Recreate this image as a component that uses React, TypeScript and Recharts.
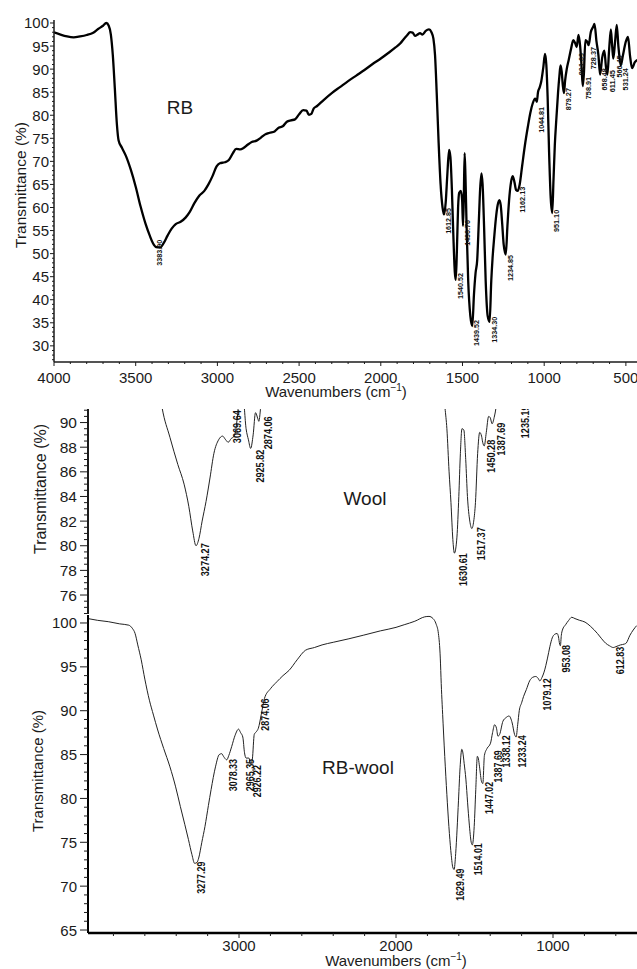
import React from 'react';
import { ComposedChart, Line, XAxis, YAxis } from 'recharts';

const FONT = "'Liberation Sans', Arial, Helvetica, sans-serif";
const NARROW = "'Liberation Sans Narrow', 'Liberation Sans', Arial, sans-serif";
const INK = '#1b1b1b';

// ---- RB spectrum (top panel) ----
const rbWavenumbers = [
  4000, 3960, 3920, 3880, 3840, 3800, 3760, 3730, 3700, 3680, 3665, 3652, 3640, 3628, 3615, 3605,
  3585, 3560, 3530, 3500, 3470, 3440, 3415, 3395, 3375, 3350, 3330, 3305, 3280, 3255, 3225, 3195,
  3170, 3140, 3110, 3080, 3055, 3030, 3005, 2985, 2955, 2930, 2905, 2885, 2860, 2840, 2815, 2790,
  2760, 2735, 2710, 2680, 2650, 2625, 2600, 2575, 2550, 2525, 2500, 2475, 2455, 2440, 2425, 2410,
  2390, 2350, 2300, 2250, 2200, 2150, 2100, 2050, 2000, 1950, 1910, 1880, 1860, 1840, 1820, 1805,
  1790, 1775, 1760, 1745, 1725, 1705, 1690, 1678, 1668, 1658, 1646, 1634, 1622, 1613, 1603, 1593,
  1582, 1574, 1565, 1556, 1547, 1541, 1534, 1527, 1520, 1510, 1502, 1497, 1492, 1487, 1482, 1475,
  1465, 1452, 1440, 1430, 1420, 1410, 1400, 1392, 1384, 1377, 1368, 1358, 1346, 1334, 1324, 1316,
  1306, 1296, 1285, 1274, 1266, 1258, 1248, 1235, 1225, 1215, 1203, 1193, 1182, 1172, 1162, 1150,
  1135, 1118, 1100, 1085, 1070, 1055, 1045, 1038, 1028, 1018, 1005, 995, 987, 979, 970, 960,
  951, 943, 935, 925, 915, 907, 900, 893, 886, 879, 872, 862, 850, 835, 822, 810,
  801, 790, 780, 772, 764, 757, 748, 738, 728, 715, 700, 692, 680, 668, 658, 645,
  632, 622, 613, 603, 592, 584, 577, 566, 556, 546, 538, 531, 518, 500, 487, 475,
  462, 445, 430,
];
const rbTransmittance = [
  98.0, 97.5, 97.1, 96.9, 97.1, 97.4, 97.9, 98.7, 99.4, 100.0, 99.4, 97.5, 93, 86, 78, 74.6,
  73, 71.2, 68.2, 64.5, 60.2, 56.5, 54, 52.3, 51.4, 51.3, 52.2, 53.9, 55.4, 56.4, 56.9, 57.8,
  59, 61, 62.6, 63.6, 65, 66.8, 68.9, 69.6, 69.8, 70.3, 71.8, 72.7, 72.6, 72.9, 73.6, 74.2,
  74.5, 75.1, 75.8, 76.2, 76.5, 77.3, 77.6, 78.6, 78.9, 79.1, 80.2, 81.1, 81.0, 80.1, 80.3, 81.5,
  82.0, 83.3, 84.8, 86.1, 87.4, 88.6, 89.8, 91.1, 92.3, 93.6, 94.7, 95.6, 96.5, 97.3, 98.0, 97.9,
  97.2, 97.5, 97.8, 97.5, 98.3, 98.6, 98.0, 96.6, 93, 85, 74, 65, 60, 58.5, 61, 67,
  72.5, 71, 64, 54, 46, 44.3, 51, 60, 63.2, 63.6, 61.5, 56, 62, 71.8, 67, 56,
  44, 36.5, 34.3, 41, 45.8, 48.6, 57, 64, 67.4, 65, 56, 44, 36.5, 35.2, 44, 49,
  53.5, 57.5, 60.5, 61.6, 60.5, 57, 52, 49.8, 56, 61.5, 65.5, 66.8, 65.5, 63.8, 63.6, 65,
  69, 73.5, 77.5, 80.5, 82.6, 83.6, 82.9, 85, 86, 87.3, 90.5, 93.3, 91, 84, 72, 62,
  58.8, 66, 73.5, 79.5, 85, 88.5, 90.8, 89.5, 86.5, 84.8, 87.5, 90, 92, 94.5, 96.3, 95.6,
  94.8, 97.4, 95, 91, 86.3, 89, 96.3, 96, 95.2, 98, 99.2, 99.8, 96, 93, 88.8, 92.5,
  94, 90.5, 88.8, 94, 98.6, 95, 92.3, 96, 99.6, 95, 92.3, 90.8, 93, 96, 97, 93,
  90.2, 91.5, 92,
];
const rbPeakLabels = [
  '3383.90', '1612.85', '1540.52', '1496.76', '1439.52', '1334.30', '1234.85', '1162.13', '1044.81',
  '951.10', '879.27', '801.69', '758.91', '728.37', '658.48', '611.45', '566.45', '531.24',
];
const rbPeakTransmittance = [53, 59.9, 45.8, 57.3, 35.6, 36.3, 49.7, 64.5, 81.8, 59.5, 85.9, 93.5, 88.3, 94.8, 90.2, 89.8, 93, 90.2];

// ---- Wool spectrum (middle panel) ----
const woolWavenumbers = [
  3540, 3490, 3440, 3390, 3350, 3320, 3295, 3274, 3255, 3235, 3210, 3185, 3160, 3130, 3105, 3085,
  3069, 3050, 3030, 3010, 2995, 2975, 2955, 2940, 2926, 2910, 2895, 2880, 2874, 2860, 2840, 2500,
  2000, 1720, 1700, 1688, 1676, 1662, 1650, 1638, 1628, 1612, 1600, 1590, 1580, 1568, 1556, 1545,
  1530, 1517, 1505, 1494, 1480, 1467, 1455, 1448, 1438, 1425, 1410, 1400, 1388, 1375, 1360, 1345,
  1300,
];
const woolTransmittance = [
  96, 91.2, 88.8, 86.6, 85.0, 83.2, 81.2, 80.0, 80.6, 82.0, 83.6, 85.5, 87.5, 88.6, 88.9, 88.6,
  88.4, 88.7, 88.9, 90.5, 92.5, 92.2, 89.5, 88.6, 87.9, 89, 90.8, 90.3, 90.1, 91.5, 93.5, 97,
  98, 97, 93, 91.2, 89.5, 86, 83.5, 80.5, 79.4, 80.7, 84, 87.5, 89.5, 89.4, 87, 84,
  82, 81.4, 82, 83.5, 87.5, 89.2, 88.9, 88.4, 88.1, 89.2, 90.5, 90.4, 89.9, 90.4, 91.5, 93.5,
  96,
];
const woolPeakLabels = ['3274.27', '3069.64', '2925.82', '2874.06', '1630.61', '1517.37', '1450.28', '1387.69', '1235.19'];
const woolPeakTransmittance = [80.2, 91.0, 87.8, 90.5, 79.4, 81.5, 88.6, 90.0, 91.4];

// ---- RB-wool spectrum (bottom panel) ----
const rbWoolWavenumbers = [
  3962, 3900, 3833, 3760, 3702, 3680, 3662, 3645, 3623, 3600, 3571, 3545, 3518, 3480, 3440, 3405,
  3374, 3345, 3322, 3300, 3283, 3268, 3257, 3237, 3217, 3195, 3178, 3150, 3126, 3110, 3099, 3078,
  3065, 3047, 3025, 3003, 2990, 2976, 2965, 2955, 2937, 2926, 2915, 2903, 2890, 2877, 2858, 2838,
  2800, 2759, 2720, 2681, 2630, 2576, 2520, 2471, 2400, 2300, 2209, 2100, 2000, 1948, 1880, 1817,
  1790, 1764, 1745, 1730, 1718, 1712, 1700, 1686, 1673, 1660, 1648, 1639, 1630, 1620, 1611, 1602,
  1592, 1581, 1575, 1566, 1555, 1544, 1534, 1521, 1514, 1502, 1492, 1482, 1475, 1468, 1455, 1447,
  1437, 1420, 1398, 1385, 1372, 1360, 1351, 1340, 1319, 1300, 1280, 1260, 1245, 1235, 1225, 1215,
  1200, 1188, 1170, 1149, 1130, 1110, 1095, 1084, 1070, 1057, 1035, 1020, 1005, 990, 974, 965,
  958, 953, 947, 940, 920, 900, 881, 860, 830, 796, 760, 717, 690, 665, 640, 616,
  599, 570, 545, 534, 510, 489, 467,
];
const rbWoolTransmittance = [
  100.5, 100.3, 100.15, 99.9, 99.75, 99.4, 98.8, 97.5, 95.8, 93.6, 91.2, 89.5, 87.8, 85.7, 83.6, 81.4,
  79.1, 77, 75.3, 73.6, 72.6, 72.7, 73.2, 75, 76.8, 79.2, 81, 83.6, 85, 85.1, 84.8, 84.4,
  84.9, 85.9, 87.2, 87.9, 87.5, 87, 85.2, 84.6, 84.6, 83.9, 84.5, 87.3, 87.6, 88, 89.6, 91.4,
  92.5, 93.3, 94, 94.6, 95.8, 96.9, 97.2, 97.5, 97.8, 98.2, 98.6, 99.1, 99.5, 99.8, 100.2, 100.7,
  100.75, 100.5, 99.9, 98.8, 96, 93.1, 88.5, 83.6, 79.5, 76, 73.5, 72.2, 71.9, 73.7, 76.5, 79.8,
  83.5, 85.6, 85.3, 84, 82.2, 79.5, 77.2, 75, 74.7, 76.8, 81, 84.8, 84.5, 83.6, 81.9, 81.7,
  84.9, 85.7, 86.3, 87.5, 88.4, 88, 87.1, 87.3, 88.8, 89.2, 89.4, 88.6, 87.3, 87, 88.4, 90,
  90.9, 91.6, 92.4, 93.4, 93.8, 93.9, 93.7, 93.4, 93.8, 94.4, 96, 97.3, 98.3, 98.7, 98.8, 98.4,
  97.6, 97.4, 98.6, 99.2, 99.8, 100.3, 100.65, 100.5, 100.3, 100.1, 99.6, 98.8, 98.2, 97.7, 97.4, 97.2,
  97.3, 97.5, 97.6, 97.7, 98.6, 99.2, 99.7,
];
const rbWoolPeakLabels = [
  '3277.29', '3078.33', '2965.35', '2926.22', '2874.06', '1629.49', '1514.01', '1447.02', '1387.69',
  '1338.12', '1233.24', '1079.12', '953.08', '612.83',
];
const rbWoolPeakTransmittance = [72.8, 84.5, 84.5, 83.8, 91.4, 72.0, 74.9, 81.9, 85.5, 87.2, 87.2, 93.7, 97.5, 97.3];

// ---- axis ticks ----
const rbXLabels = [500, 1000, 1500, 2000, 2500, 3000, 3500, 4000];
const rbYLabels = [30, 35, 40, 45, 50, 55, 60, 65, 70, 75, 80, 85, 90, 95, 100];
const woolYLabels = [76, 78, 80, 82, 84, 86, 88, 90];
const rbWoolXLabels = [1000, 2000, 3000];
const rbWoolYLabels = [65, 70, 75, 80, 85, 90, 95, 100];

const steps = (from: number, to: number, step: number) => {
  const out: number[] = [];
  for (let v = from; v <= to + 1e-9; v += step) out.push(Math.round(v * 100) / 100);
  return out;
};

const toPoints = (wn: number[], t: number[]) => wn.map((w, i) => ({ wn: w, t: t[i] }));
const toPeaks = (labels: string[], t: number[]) =>
  labels.map((label, i) => ({ wn: parseFloat(label), t: t[i], label }));

const rbPoints = toPoints(rbWavenumbers, rbTransmittance);
const woolPoints = toPoints(woolWavenumbers, woolTransmittance);
const rbWoolPoints = toPoints(rbWoolWavenumbers, rbWoolTransmittance);
const rbPeaks = toPeaks(rbPeakLabels, rbPeakTransmittance);
const woolPeaks = toPeaks(woolPeakLabels, woolPeakTransmittance);
const rbWoolPeaks = toPeaks(rbWoolPeakLabels, rbWoolPeakTransmittance);

interface TickCfg {
  labels: number[];
  major: number;
  minor: number;
  gap: number;
  size: number;
}

const makeYTick = (cfg: TickCfg) => (props: any) => {
  const { x, y, payload } = props;
  const v = payload.value;
  const isLabel = cfg.labels.includes(v);
  return (
    <g>
      <line x1={x} x2={x - (isLabel ? cfg.major : cfg.minor)} y1={y} y2={y} stroke={INK} strokeWidth={1} />
      {isLabel && (
        <text x={x - cfg.gap} y={y} textAnchor="end" dominantBaseline="central"
          fontSize={cfg.size} fontFamily={FONT} fill={INK}>
          {v}
        </text>
      )}
    </g>
  );
};

const makeXTick = (cfg: TickCfg) => (props: any) => {
  const { x, y, payload } = props;
  const v = payload.value;
  const isLabel = cfg.labels.includes(v);
  return (
    <g>
      <line x1={x} x2={x} y1={y} y2={y + (isLabel ? cfg.major : cfg.minor)} stroke={INK} strokeWidth={1} />
      {isLabel && (
        <text x={x} y={y + cfg.gap} textAnchor="middle" fontSize={cfg.size} fontFamily={FONT} fill={INK}>
          {v}
        </text>
      )}
    </g>
  );
};

// rotated peak annotation hanging below the band
const peakLabel = (size: number, perChar: number, dx: number, family: string) => (p: any) => {
  const x = p.cx + dx;
  const y = p.cy;
  const label: string = p.payload.label;
  return (
    <text key={`pk-${p.index}`} x={x} y={y} transform={`rotate(-90 ${x} ${y})`} textAnchor="end"
      dominantBaseline="central" fontSize={size} fontWeight="bold" fontFamily={family} fill="#111"
      textLength={perChar * label.length} lengthAdjust="spacingAndGlyphs">
      {label}
    </text>
  );
};

const RBPanel = () => (
  <ComposedChart width={637} height={400} margin={{ top: 20, right: 0, bottom: 0, left: 8 }}>
    <XAxis dataKey="wn" type="number" domain={[432, 4000]} reversed allowDataOverflow
      ticks={steps(500, 4000, 100)} interval={0} height={38} tickLine={false} tickSize={0} tickMargin={0}
      axisLine={{ stroke: INK, strokeWidth: 1.5 }}
      tick={makeXTick({ labels: rbXLabels, major: 4, minor: 2, gap: 21, size: 15 })} />
    <YAxis type="number" domain={[26.5, 100.65]} allowDataOverflow ticks={steps(27, 100, 1)} interval={0}
      width={46} tickLine={false} tickSize={0} tickMargin={0} axisLine={{ stroke: INK, strokeWidth: 1.5 }}
      tick={makeYTick({ labels: rbYLabels, major: 4, minor: 2, gap: 5, size: 15 })} />
    <Line data={rbPoints} dataKey="t" type="monotone" stroke="#000" strokeWidth={2.3} dot={false}
      activeDot={false} isAnimationActive={false} />
    <Line data={rbPeaks} dataKey="t" stroke="transparent" strokeWidth={0} activeDot={false}
      dot={peakLabel(7, 3.7, 4.5, FONT)} isAnimationActive={false} />
  </ComposedChart>
);

const WoolPanel = () => (
  <ComposedChart width={637} height={214} margin={{ top: 9, right: 0, bottom: 0, left: 8 }}>
    <XAxis dataKey="wn" type="number" domain={[465, 3962]} reversed allowDataOverflow hide />
    <YAxis type="number" domain={[74.46, 91.1]} allowDataOverflow ticks={steps(74.5, 91, 0.5)} interval={0}
      width={80} tickLine={false} tickSize={0} tickMargin={0} axisLine={{ stroke: INK, strokeWidth: 2 }}
      tick={makeYTick({ labels: woolYLabels, major: 8, minor: 4, gap: 11, size: 15.5 })} />
    <Line data={woolPoints} dataKey="t" type="monotone" stroke="#222" strokeWidth={1} dot={false}
      activeDot={false} isAnimationActive={false} />
    <Line data={woolPeaks} dataKey="t" stroke="transparent" strokeWidth={0} activeDot={false}
      dot={peakLabel(11, 4.7, 9, NARROW)} isAnimationActive={false} />
  </ComposedChart>
);

const RBWoolPanel = () => (
  <ComposedChart width={637} height={369} margin={{ top: 15, right: 0, bottom: 0, left: 8 }}>
    <XAxis dataKey="wn" type="number" domain={[465, 3962]} reversed allowDataOverflow
      ticks={steps(600, 3800, 200)} interval={0} height={36} tickLine={false} tickSize={0} tickMargin={0}
      axisLine={{ stroke: '#000', strokeWidth: 2.5 }}
      tick={makeXTick({ labels: rbWoolXLabels, major: 5, minor: 3, gap: 18, size: 15 })} />
    <XAxis xAxisId="top" orientation="top" dataKey="wn" type="number" domain={[465, 3962]} reversed
      allowDataOverflow height={0} tick={false} tickLine={false} axisLine={{ stroke: '#9c9c9c', strokeWidth: 1 }} />
    <YAxis type="number" domain={[64.66, 100.91]} allowDataOverflow ticks={steps(65, 100, 1)} interval={0}
      width={80} tickLine={false} tickSize={0} tickMargin={0} axisLine={{ stroke: '#000', strokeWidth: 2 }}
      tick={makeYTick({ labels: rbWoolYLabels, major: 8, minor: 4, gap: 11, size: 15 })} />
    <Line data={rbWoolPoints} dataKey="t" type="monotone" stroke="#222" strokeWidth={1} dot={false}
      activeDot={false} isAnimationActive={false} />
    <Line data={rbWoolPeaks} dataKey="t" stroke="transparent" strokeWidth={0} activeDot={false}
      dot={peakLabel(11, 4.6, 6, NARROW)} isAnimationActive={false} />
  </ComposedChart>
);

const xTitle = (x: number, y: number) => (
  <text x={x} y={y} textAnchor="middle" fontSize={15} fontFamily={FONT} fill={INK}>
    <tspan>Wavenumbers (cm</tspan>
    <tspan dy={-6} fontSize={10}>−1</tspan>
    <tspan dy={6}>)</tspan>
  </text>
);

const yTitle = (x: number, y: number, size: number) => (
  <text transform={`translate(${x},${y}) rotate(-90)`} textAnchor="middle" dominantBaseline="central"
    fontSize={size} fontFamily={FONT} fill={INK}>
    Transmittance (%)
  </text>
);

const panelName = (x: number, y: number, name: string) => (
  <text x={x} y={y} textAnchor="middle" dominantBaseline="central" fontSize={19} fontFamily={FONT} fill={INK}>
    {name}
  </text>
);

export default function App() {
  return (
    <div style={{ position: 'absolute', left: 0, top: 0, width: 637, height: 969, background: '#fff', overflow: 'hidden' }}>
      <div style={{ position: 'absolute', left: 0, top: 0 }}>
        <RBPanel />
      </div>
      <div style={{ position: 'absolute', left: 0, top: 400 }}>
        <WoolPanel />
      </div>
      <div style={{ position: 'absolute', left: 0, top: 600 }}>
        <RBWoolPanel />
      </div>
      <svg width={637} height={969} style={{ position: 'absolute', left: 0, top: 0, pointerEvents: 'none' }}>
        {yTitle(20, 185, 15.5)}
        {xTitle(336, 397)}
        {yTitle(40, 489, 16)}
        {yTitle(37, 771, 15)}
        {xTitle(396, 966)}
        {panelName(180, 107, 'RB')}
        {panelName(365, 498, 'Wool')}
        {panelName(358, 767, 'RB-wool')}
      </svg>
    </div>
  );
}
